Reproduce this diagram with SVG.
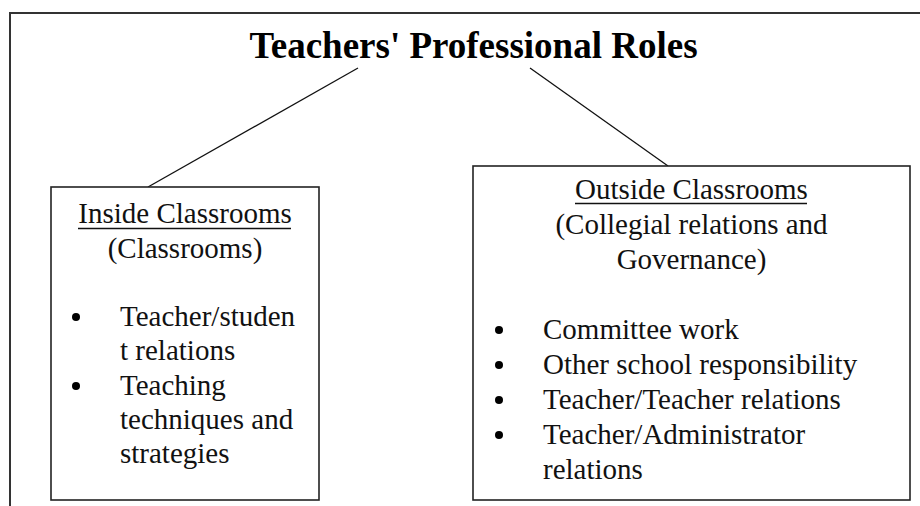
<svg xmlns="http://www.w3.org/2000/svg" width="920" height="506" viewBox="0 0 920 506">
<style>
.frame{fill:none;stroke:#333;stroke-width:2}
.box{fill:#fff;stroke:#222;stroke-width:1.6}
.conn{stroke:#111;stroke-width:1.3;fill:none}
.t{font-family:"Liberation Serif","Times New Roman",serif;font-size:29px;fill:#111}
.c{text-anchor:middle}
.title{font-family:"Liberation Serif","Times New Roman",serif;font-size:37px;font-weight:bold;fill:#000;text-anchor:middle}
.ul{stroke:#111;stroke-width:1.4}
</style>
<rect width="920" height="506" fill="#fff"/>
<path class="frame" d="M10,506 V13 H920"/>
<g id="title">
<text class="title" x="473.5" y="58">Teachers' Professional Roles</text>
</g>
<g id="connectors">
<line class="conn" x1="148" y1="187" x2="358" y2="68"/>
<line class="conn" x1="530" y1="68" x2="668" y2="166"/>
</g>
<g id="inside">
<rect class="box" x="51" y="187" width="268" height="313"/>
<text class="t c" x="185" y="223">Inside Classrooms</text>
<line class="ul" x1="78" y1="228.5" x2="291" y2="228.5"/>
<text class="t c" x="185" y="257.5">(Classrooms)</text>
<circle cx="76" cy="317" r="4"/>
<text class="t" x="120" y="326">Teacher/studen</text>
<text class="t" x="120" y="360">t relations</text>
<circle cx="76" cy="386" r="4"/>
<text class="t" x="120" y="395">Teaching</text>
<text class="t" x="120" y="429">techniques and</text>
<text class="t" x="120" y="463">strategies</text>
</g>
<g id="outside">
<rect class="box" x="473" y="166" width="437" height="334"/>
<text class="t c" x="691.5" y="199">Outside Classrooms</text>
<line class="ul" x1="575" y1="203.5" x2="807" y2="203.5"/>
<text class="t c" x="691.5" y="234">(Collegial relations and</text>
<text class="t c" x="691.5" y="269">Governance)</text>
<circle cx="499" cy="330" r="4"/>
<text class="t" x="543" y="339">Committee work</text>
<circle cx="499" cy="365" r="4"/>
<text class="t" x="543" y="374">Other school responsibility</text>
<circle cx="499" cy="400" r="4"/>
<text class="t" x="543" y="409">Teacher/Teacher relations</text>
<circle cx="499" cy="435" r="4"/>
<text class="t" x="543" y="444">Teacher/Administrator</text>
<text class="t" x="543" y="479">relations</text>
</g>
</svg>
